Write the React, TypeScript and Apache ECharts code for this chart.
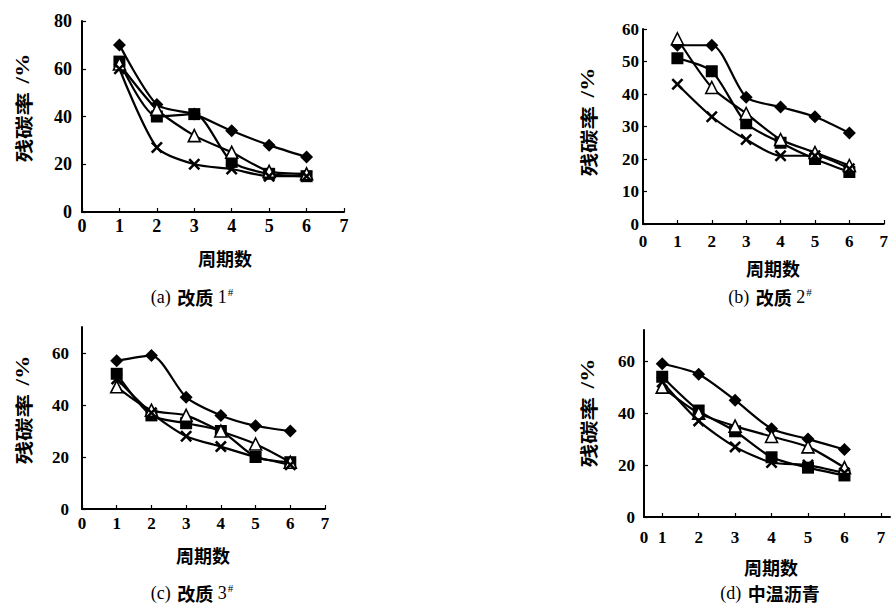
import React, { useEffect, useRef } from "react";
import * as echarts from "echarts";

const cycles = [1, 2, 3, 4, 5, 6];

const aDiamond = [70, 45, 41, 34, 28, 23];
const aSquare = [63, 40, 41, 21, 16, 15];
const aTriangle = [62, 43, 32, 25, 17, 16];
const aCross = [60, 27, 20, 18, 15, 15];

const bDiamond = [55, 55, 39, 36, 33, 28];
const bTriangle = [57, 42, 34, 26, 22, 18];
const bSquare = [51, 47, 31, 25, 20, 16];
const bCross = [43, 33, 26, 21, 21, 17];

const cDiamond = [57, 59, 43, 36, 32, 30];
const cSquare = [52, 36, 33, 30, 20, 18];
const cTriangle = [47, 38, 36, 30, 25, 18];
const cCross = [50, 37, 28, 24, 20, 17];

const dDiamond = [59, 55, 45, 34, 30, 26];
const dTriangle = [50, 40, 35, 31, 27, 19];
const dSquare = [54, 41, 33, 23, 19, 16];
const dCross = [52, 37, 27, 21, 20, 17];

const yTicksA = [0, 20, 40, 60, 80];
const yTicksB = [0, 10, 20, 30, 40, 50, 60];
const yTicksCD = [0, 20, 40, 60];
const xTicks = [0, 1, 2, 3, 4, 5, 6, 7];
const xLabelsD = [0.5, 1, 2, 3, 4, 5, 6, 7];

const captions = ["(a)", "(b)", "(c)", "(d)"];
const captionNames = ["改质 1", "改质 2", "改质 3", "中温沥青"];
const yName = "残碳率";
const xName = "周期数";

const CROSS =
  "path://M0,1.5L1.5,0L5,3.5L8.5,0L10,1.5L6.5,5L10,8.5L8.5,10L5,6.5L1.5,10L0,8.5L3.5,5Z";

const SERIF = "'Liberation Serif', 'Times New Roman', serif";
const CJK = "'Noto Sans CJK SC', sans-serif";

function mkSeries(idx: number, data: number[], kind: string) {
  const base: any = {
    type: "line",
    xAxisIndex: idx,
    yAxisIndex: idx,
    data: cycles.map((c, i) => [c, data[i]]),
    smooth: 0.25,
    lineStyle: { color: "#000", width: 2.2 },
    symbolSize: 10,
    itemStyle: { color: "#000" },
  };
  if (kind === "diamond") {
    base.symbol = "diamond";
    base.symbolSize = 13;
  } else if (kind === "square") {
    base.symbol = "rect";
    base.symbolSize = 12;
  } else if (kind === "triangle") {
    base.symbol = "triangle";
    base.symbolSize = 12;
    base.itemStyle = { color: "#fff", borderColor: "#000", borderWidth: 1.6 };
  } else {
    base.symbol = CROSS;
    base.symbolSize = 12;
  }
  return base;
}

function richLabel(size: number) {
  return {
    v: { fontFamily: SERIF, fontWeight: "bold", fontSize: size, fill: "#000", color: "#000" },
  };
}

export default function App() {
  const ref = useRef<HTMLDivElement>(null);
  useEffect(() => {
    document.body.style.margin = "0";
    const chart = echarts.init(ref.current!, null, { renderer: "svg" });

    const grids = [
      { left: 82, top: 21, width: 262, height: 191 },
      { left: 643, top: 29, width: 246, height: 195 },
      { left: 82, top: 327, width: 243, height: 182 },
      { left: 644, top: 330, width: 246, height: 187 },
    ];
    const labelSizes = [18, 17, 17, 17];
    const yMargins = [10, 4, 13, 9];
    const xMargins = [5, 9, 6, 12];

    const xAxes = grids.map((_, i) => {
      const ax: any = {
        type: "value",
        gridIndex: i,
        min: 0,
        max: 7,
        interval: 1,
        splitLine: { show: false },
        axisLine: { onZero: false, lineStyle: { color: "#000", width: 2 } },
        axisTick: { inside: true, length: 4, lineStyle: { color: "#000", width: 1.2 } },
        axisLabel: {
          color: "#000",
          margin: xMargins[i],
          showMinLabel: true,
          showMaxLabel: true,
          formatter: (v: number) => "{v|" + v + "}",
          rich: richLabel(labelSizes[i]),
        },
      };
      if (i === 3) {
        ax.min = 0.5;
        ax.max = 7.25;
        delete ax.interval;
        ax.axisLabel.customValues = xLabelsD;
        ax.axisLabel.formatter = (v: number) => "{v|" + (v === 0.5 ? "0" : String(v)) + "}";
        ax.axisTick.customValues = xTicks.filter((t) => t >= 1);
      }
      return ax;
    });

    const yAxes = grids.map((_, i) => {
      const ticks = i === 0 ? yTicksA : i === 1 ? yTicksB : yTicksCD;
      const ax: any = {
        type: "value",
        gridIndex: i,
        min: 0,
        max: i === 0 ? 80 : i === 1 ? 60 : i === 2 ? 70 : 72,
        splitLine: { show: false },
        axisLine: { onZero: false, lineStyle: { color: "#000", width: 2 } },
        axisTick: {
          inside: true,
          length: 4,
          lineStyle: { color: "#000", width: 1.2 },
          customValues: ticks,
        },
        axisLabel: {
          color: "#000",
          margin: yMargins[i],
          customValues: ticks,
          formatter: (v: number) => "{v|" + v + "}",
          rich: richLabel(labelSizes[i]),
        },
      };
      return ax;
    });

    const series = [
      mkSeries(0, aDiamond, "diamond"),
      mkSeries(0, aSquare, "square"),
      mkSeries(0, aTriangle, "triangle"),
      mkSeries(0, aCross, "cross"),
      mkSeries(1, bDiamond, "diamond"),
      mkSeries(1, bSquare, "square"),
      mkSeries(1, bTriangle, "triangle"),
      mkSeries(1, bCross, "cross"),
      mkSeries(2, cDiamond, "diamond"),
      mkSeries(2, cSquare, "square"),
      mkSeries(2, cTriangle, "triangle"),
      mkSeries(2, cCross, "cross"),
      mkSeries(3, dDiamond, "diamond"),
      mkSeries(3, dSquare, "square"),
      mkSeries(3, dTriangle, "triangle"),
      mkSeries(3, dCross, "cross"),
    ];

    const yNamePos = [
      [23, 108],
      [588, 122],
      [23, 410],
      [588, 413],
    ];
    const xNamePos = [
      [225, 258],
      [773, 268],
      [203, 555],
      [771, 567],
    ];
    const capPos = [
      [192, 297],
      [770, 297],
      [192, 593],
      [770, 593],
    ];

    const graphic: any[] = [];
    for (let i = 0; i < 4; i++) {
      graphic.push({
        type: "text",
        x: yNamePos[i][0],
        y: yNamePos[i][1],
        rotation: Math.PI / 2,
        scaleX: 1.3,
        style: {
          text: "{c|" + yName + "}  {p|/%}",
          align: "center",
          verticalAlign: "middle",
          rich: {
            c: { fontFamily: CJK, fontSize: 18, fontWeight: "bold", fill: "#000" },
            p: { fontFamily: SERIF, fontSize: 18, fontWeight: "bold", fill: "#000" },
          },
        },
      });
      graphic.push({
        type: "text",
        x: xNamePos[i][0],
        y: xNamePos[i][1],
        style: {
          text: xName,
          fontFamily: CJK,
          fontSize: 18,
          fontWeight: "bold",
          fill: "#000",
          align: "center",
          verticalAlign: "middle",
        },
      });
      const isD = i === 3;
      const name = captionNames[i];
      const txt = isD
        ? "{p|" + captions[i] + "}  {c|" + name + "}"
        : "{p|" + captions[i] + "}  {c|" + name.slice(0, 2) + "}{n| " + name.slice(3) + "}{s|#}";
      graphic.push({
        type: "text",
        x: capPos[i][0],
        y: capPos[i][1],
        style: {
          text: txt,
          align: "center",
          verticalAlign: "middle",
          rich: {
            p: { fontFamily: SERIF, fontSize: 18, fill: "#000" },
            c: { fontFamily: CJK, fontSize: 18, fontWeight: "bold", fill: "#000" },
            n: { fontFamily: SERIF, fontSize: 18, fill: "#000" },
            s: { fontFamily: SERIF, fontSize: 11, fill: "#000", padding: [0, 0, 10, 1] },
          },
        },
      });
    }

    chart.setOption({
      animation: false,
      backgroundColor: "#fff",
      grid: grids.map((g) => ({ ...g, containLabel: false })),
      xAxis: xAxes,
      yAxis: yAxes,
      series,
      graphic,
    });
    return () => chart.dispose();
  }, []);
  return <div ref={ref} style={{ width: 891, height: 610 }} />;
}
